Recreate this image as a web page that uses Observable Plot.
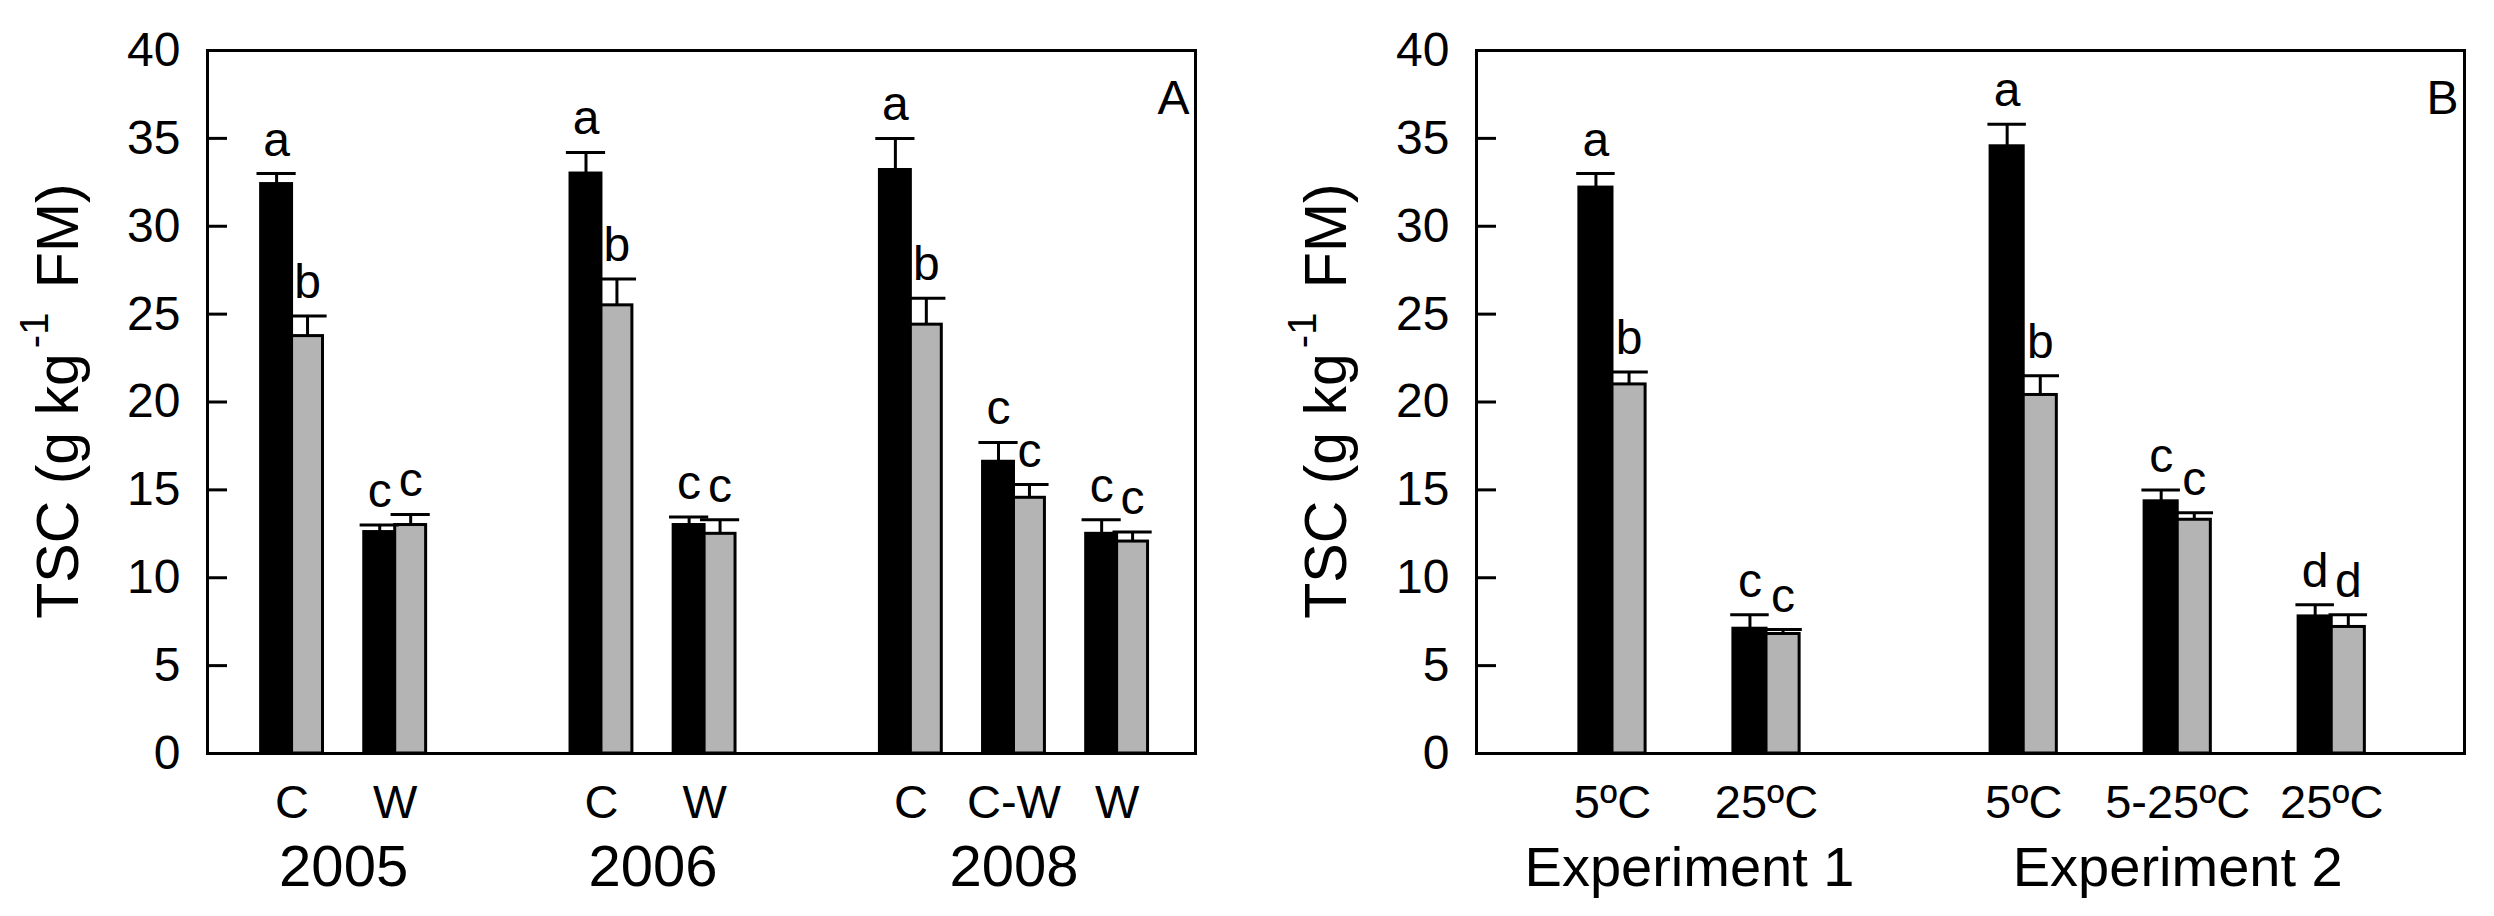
<!DOCTYPE html>
<html>
<head>
<meta charset="utf-8">
<script src="https://cdn.jsdelivr.net/npm/d3@7"></script>
<script src="https://cdn.jsdelivr.net/npm/@observablehq/plot@0.6"></script>
<style>
  html, body { margin: 0; padding: 0; background: #fff; }
  #wrap { position: relative; width: 2494px; height: 916px; overflow: hidden; background: #fff; }
  #panelA { position: absolute; left: 0; top: 0; }
  #panelB { position: absolute; left: 1247px; top: 0; }
  svg { overflow: visible; }
</style>
</head>
<body>
<div id="wrap"><div id="panelA"></div><div id="panelB"></div></div>
<script>
// ---------- Panel A data ----------
const catsA = ["C", "W", "C", "W", "C", "C-W", "W"];
const groupsA = ["2005", "2005", "2006", "2006", "2008", "2008", "2008"];
const blackA = [32.4, 12.6, 33.0, 13.0, 33.2, 16.6, 12.5];
const blackErrA = [0.6, 0.4, 1.2, 0.45, 1.8, 1.1, 0.8];
const grayA = [23.75, 13.0, 25.5, 12.5, 24.4, 14.55, 12.06];
const grayErrA = [1.15, 0.6, 1.5, 0.8, 1.5, 0.75, 0.55];
const blackLettersA = ["a", "c", "a", "c", "a", "c", "c"];
const grayLettersA = ["b", "c", "b", "c", "b", "c", "c"];

// ---------- Panel B data ----------
const catsB = ["5ºC", "25ºC", "5ºC", "5-25ºC", "25ºC"];
const groupsB = ["Experiment 1", "Experiment 1", "Experiment 2", "Experiment 2", "Experiment 2"];
const blackB = [32.2, 7.1, 34.55, 14.35, 7.8];
const blackErrB = [0.8, 0.8, 1.25, 0.65, 0.67];
const grayB = [21.0, 6.8, 20.4, 13.3, 7.2];
const grayErrB = [0.7, 0.25, 1.1, 0.4, 0.7];
const blackLettersB = ["a", "c", "a", "c", "d"];
const grayLettersB = ["b", "c", "b", "c", "d"];

const yTicks = [0, 5, 10, 15, 20, 25, 30, 35, 40];
const FONT = "'Liberation Sans', Arial, Helvetica, sans-serif";
const GRAY = "#b4b4b4";
const FRAME_W = 988;   // plot frame width in px
const TICK_LEN = 20;   // inward tick length in px

function buildRows(cats, groups, black, blackErr, gray, grayErr, bl, gl, gap) {
  const uniq = [...new Set(groups)];
  const rows = [];
  cats.forEach((c, i) => {
    const g = uniq.indexOf(groups[i]);
    const pos = i + gap * g;
    rows.push({cat: c, group: groups[i], pos, series: "black", v: black[i], e: blackErr[i], letter: bl[i], side: -1});
    rows.push({cat: c, group: groups[i], pos, series: "gray", v: gray[i], e: grayErr[i], letter: gl[i], side: 1});
  });
  return rows;
}

function panel({rows, domain, barW, capW, marginLeft, marginRight, panelLetter, groupFont, titleX}) {
  const cats = rows.filter(d => d.series === "black");
  const groupNames = [...new Set(cats.map(d => d.group))];
  const groupRows = groupNames.map(g => ({group: g, pos: d3.mean(cats.filter(d => d.group === g), d => d.pos)}));
  const center = d => d.pos + d.side * barW / 2;
  const tickLen = TICK_LEN * (domain[1] - domain[0]) / FRAME_W;
  const plot = Plot.plot({
    width: 1247,
    height: 916,
    marginTop: 50,
    marginBottom: 163,
    marginLeft,
    marginRight,
    style: {fontFamily: FONT, fontSize: "48px", background: "white", color: "black"},
    x: {domain, axis: null},
    y: {domain: [0, 40]},
    marks: [
      Plot.rectY(rows, {
        x1: d => d.side < 0 ? d.pos - barW : d.pos,
        x2: d => d.side < 0 ? d.pos : d.pos + barW,
        y1: 0, y2: "v",
        fill: d => d.series === "black" ? "black" : GRAY,
        stroke: "black", strokeWidth: 3
      }),
      Plot.ruleX(rows, {x: center, y1: "v", y2: d => d.v + d.e, stroke: "black", strokeWidth: 3}),
      Plot.ruleY(rows, {y: d => d.v + d.e, x1: d => center(d) - capW / 2, x2: d => center(d) + capW / 2, stroke: "black", strokeWidth: 3}),
      Plot.text(rows, {x: center, y: d => d.v + d.e, text: "letter", dy: -18, lineAnchor: "bottom", fontSize: 48}),
      Plot.ruleY(yTicks, {y: d => d, x1: domain[0], x2: domain[0] + tickLen, stroke: "black", strokeWidth: 3}),
      Plot.axisY({ticks: yTicks, tickSize: 0, tickPadding: 27, fontSize: 48, label: null, tickFormat: d => d}),
      Plot.text(cats, {x: "pos", text: "cat", frameAnchor: "bottom", dy: 64, lineAnchor: "bottom", fontSize: 47}),
      Plot.text(groupRows, {x: "pos", text: "group", frameAnchor: "bottom", dy: 132, lineAnchor: "bottom", fontSize: groupFont}),
      Plot.text([panelLetter], {text: d => d, frameAnchor: "top-right", dx: -22, dy: 63, lineAnchor: "bottom", textAnchor: "middle", fontSize: 48}),
      Plot.frame({stroke: "black", strokeWidth: 3})
    ]
  });
  // rotated y-axis title with superscript
  const svg = d3.select(plot);
  const t = svg.append("text")
    .attr("transform", `translate(${titleX},401) rotate(-90)`)
    .attr("text-anchor", "middle")
    .attr("font-family", FONT)
    .attr("font-size", 59)
    .attr("fill", "black")
    .style("white-space", "pre");
  t.append("tspan").text("TSC (g kg");
  t.append("tspan").attr("font-size", 40).attr("dx", 5).attr("dy", -30).text("-1");
  t.append("tspan").attr("dx", 8).attr("dy", 30).text(" FM)");
  return plot;
}

const rowsA = buildRows(catsA, groupsA, blackA, blackErrA, grayA, grayErrA, blackLettersA, grayLettersA, 1);
const rowsB = buildRows(catsB, groupsB, blackB, blackErrB, grayB, grayErrB, blackLettersB, grayLettersB, 0.67);

document.getElementById("panelA").append(panel({
  rows: rowsA, domain: [-0.82, 8.76], barW: 0.3, capW: 0.38,
  marginLeft: 207, marginRight: 52, panelLetter: "A", groupFont: 58, titleX: 78
}));
document.getElementById("panelB").append(panel({
  rows: rowsB, domain: [-0.883, 5.532], barW: 0.215, capW: 0.25,
  marginLeft: 229, marginRight: 30, panelLetter: "B", groupFont: 56, titleX: 99
}));
</script>
</body>
</html>
